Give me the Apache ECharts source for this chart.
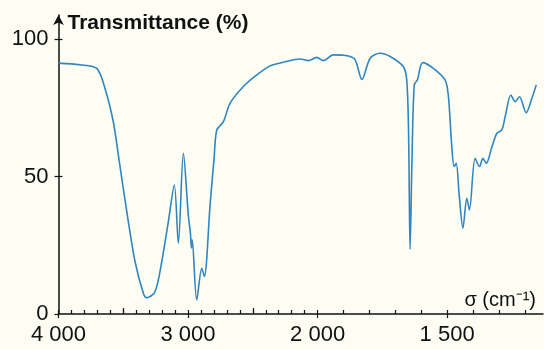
<!DOCTYPE html>
<html>
<head>
<meta charset="utf-8">
<script src="https://cdn.jsdelivr.net/npm/echarts@6/dist/echarts.min.js"></script>
<style>
html,body{margin:0;padding:0;background:#fdfdf4;}
#c{width:544px;height:349px;}
</style>
</head>
<body>
<div id="c"></div>
<script>
// Wavenumber (cm-1) and transmittance (%)
const sigma = [4000, 3834, 3705, 3641, 3577, 3538, 3500, 3461, 3409, 3345, 3319, 3255, 3203, 3152, 3106, 3075, 3036, 2998, 2981, 2974, 2968, 2933, 2894, 2874, 2830, 2799, 2778, 2727, 2676, 2573, 2469, 2367, 2264, 2135, 2071, 2006, 1978, 1939, 1881, 1855, 1829, 1797, 1759, 1720, 1669, 1656, 1649, 1646, 1643, 1636, 1627, 1615, 1594, 1553, 1508, 1495, 1482, 1473, 1465, 1453, 1439, 1424, 1414, 1392, 1375, 1362, 1349, 1327, 1308, 1289, 1276, 1254, 1237, 1221, 1195, 1173, 1156];
const transmittance = [91.2, 90.6, 89.3, 82, 69.9, 57.8, 45.7, 33.6, 19.0, 7.5, 5.9, 8.1, 19, 33.6, 46.9, 25.7, 58.4, 36, 29, 24, 27, 5.1, 16.6, 13.6, 39.6, 56.6, 66.9, 69.9, 76.6, 82.7, 86.9, 90.2, 91.5, 92.7, 92.1, 93.3, 92.1, 94.2, 93.8, 92.4, 85.3, 93, 94.8, 93.6, 89.9, 85.1, 66.9, 42.7, 23.5, 54.8, 83.3, 85.1, 91.4, 89.3, 85.1, 79, 60.8, 53.6, 54.8, 42.7, 31.2, 42.1, 37.8, 56.6, 53.6, 56.6, 54.8, 60.8, 65.7, 66.9, 71.7, 79.6, 77.2, 79, 73.2, 78.4, 83.3];
const xTickLabels = [4000, 3000, 2000, 1500];
const xMinorTicks = [4000,3900,3800,3700,3600,3500,3400,3300,3200,3100,3000,2900,2800,2700,2600,2500,2400,2300,2200,2100,2000,1900,1800,1700,1600,1500,1400,1300,1200];
const xMidTicks = [3500, 2500];
const yTickLabels = [0, 50, 100];
const sigmaMin = 1130;

// Scale change at 2000 cm-1: below 2000 the scale is doubled
function toU(s){ return s >= 2000 ? s : 2*s - 2000; }
function fromU(u){ return u >= 2000 ? u : (u + 2000)/2; }
function fmt(s){ s = Math.round(s); const t = String(s); return t.length > 3 ? t.slice(0, t.length-3) + ' ' + t.slice(-3) : t; }

const data = sigma.map((s,i)=>[toU(s), transmittance[i]]);
const FONT = '"Liberation Sans", Arial, sans-serif';
const base = {type:'value', min: toU(sigmaMin), max: 4000, inverse: true, position:'bottom', splitLine:{show:false}, gridIndex:0};

const chart = echarts.init(document.getElementById('c'), null, {renderer:'canvas'});
chart.setOption({
  backgroundColor: '#fdfdf4',
  animation: false,
  grid: {left: 58.5, right: 1, top: 15, bottom: 35, containLabel: false, outerBoundsMode: 'none'},
  xAxis: [
    Object.assign({}, base, {
      axisLine: {show:true, lineStyle:{color:'#111', width:1.5}},
      axisTick: {show:true, inside:false, length:4, lineStyle:{color:'#111', width:1.2}, customValues: xTickLabels.map(toU)},
      axisLabel: {show:true, margin:10, color:'#111', fontSize:22, fontFamily:FONT, customValues: xTickLabels.map(toU), formatter: v => fmt(fromU(v))},
      name: 'σ (cm⁻¹)', nameLocation:'start', nameGap: -7,
      nameTextStyle: {align:'right', verticalAlign:'bottom', color:'#111', fontSize:20, fontFamily:FONT, padding:[0,0,4,0]}
    }),
    Object.assign({}, base, {
      axisLine:{show:false}, axisLabel:{show:false},
      axisTick:{show:true, inside:true, length:4, lineStyle:{color:'#111', width:1.2}, customValues: xMinorTicks.map(toU)}
    }),
    Object.assign({}, base, {
      axisLine:{show:false}, axisLabel:{show:false},
      axisTick:{show:true, inside:true, length:6, lineStyle:{color:'#111', width:1.2}, customValues: xMidTicks.map(toU)}
    })
  ],
  yAxis: [
    {type:'value', min:0, max:108.7, position:'left', splitLine:{show:false},
     axisLine:{show:true, lineStyle:{color:'#111', width:1.5}, symbol:['none','arrow'], symbolSize:[8,10]},
     axisTick:{show:true, inside:false, length:4, lineStyle:{color:'#111', width:1.2}, customValues: yTickLabels},
     axisLabel:{show:true, margin:10, color:'#111', fontSize:22, fontFamily:FONT, customValues: yTickLabels},
     name:'Transmittance (%)', nameLocation:'end', nameGap:-8,
     nameTextStyle:{align:'left', verticalAlign:'middle', color:'#111', fontSize:21, fontWeight:'bold', fontFamily:FONT, padding:[0,0,0,9]}
    },
    {type:'value', min:0, max:108.7, position:'left', splitLine:{show:false},
     axisLine:{show:false}, axisLabel:{show:false},
     axisTick:{show:true, inside:true, length:4, lineStyle:{color:'#111', width:1.2}, customValues:[50,100]}
    }
  ],
  series: [{
    type:'line', xAxisIndex:0, yAxisIndex:0, data: data, showSymbol:false, smooth:0.3,
    lineStyle:{color:'#2f86c0', width:1.6}
  }]
});
</script>
</body>
</html>
